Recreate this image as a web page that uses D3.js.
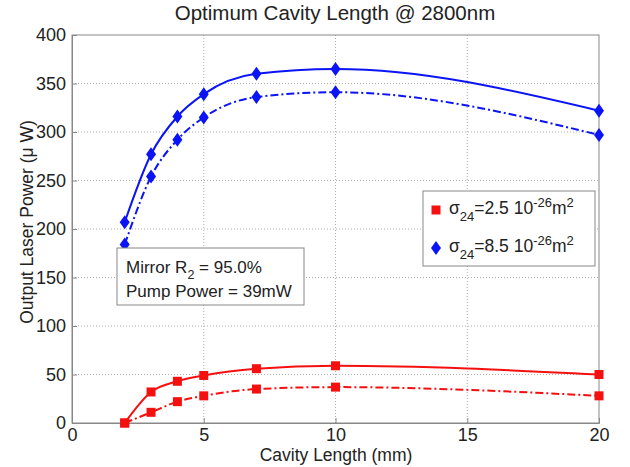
<!DOCTYPE html>
<html>
<head>
<meta charset="utf-8">
<script src="https://cdn.jsdelivr.net/npm/d3@7"></script>
<style>
  body { margin: 0; background: #fff; }
  text { font-family: "Liberation Sans", Arial, sans-serif; fill: #222; }
</style>
</head>
<body>
<svg id="chart" width="630" height="467"></svg>
<script>
// cavity lengths (mm)
const lengths = [2, 3, 4, 5, 7, 10, 20];
// sigma24 = 8.5e-26 m^2
const blueSolid = [207, 277, 316, 339, 360, 365, 322];
const blueDash = [184, 254, 292, 315, 336, 341, 297];
// sigma24 = 2.5e-26 m^2
const redSolid = [0, 32, 43, 49, 56, 59, 50];
const redDash = [0, 11, 22, 28, 35, 37, 28];

const xTicks = [0, 5, 10, 15, 20];
const yTicks = [0, 50, 100, 150, 200, 250, 300, 350, 400];

const svg = d3.select('#chart');
const margin = { left: 72, right: 31, top: 35, bottom: 44 };
const W = 630, H = 467;

const x = d3.scaleLinear().domain([0, 20]).range([margin.left, W - margin.right]);
const y = d3.scaleLinear().domain([0, 400]).range([H - margin.bottom, margin.top]);

// grid
const grid = svg.append('g');
grid.selectAll('.gx').data(xTicks.slice(1, -1)).enter().append('line')
  .attr('x1', d => x(d)).attr('x2', d => x(d))
  .attr('y1', y(0)).attr('y2', y(400))
  .attr('stroke', '#999').attr('stroke-width', 0.8).attr('stroke-dasharray', '1,2');
grid.selectAll('.gy').data(yTicks.slice(1, -1)).enter().append('line')
  .attr('x1', x(0)).attr('x2', x(20))
  .attr('y1', d => y(d)).attr('y2', d => y(d))
  .attr('stroke', '#999').attr('stroke-width', 0.8).attr('stroke-dasharray', '1,2');

// axes (ticks inside, box)
const xAxis = svg.append('g').attr('transform', `translate(0,${y(0)})`)
  .call(d3.axisBottom(x).tickValues(xTicks).tickSize(-5).tickPadding(5));
const yAxis = svg.append('g').attr('transform', `translate(${x(0)},0)`)
  .call(d3.axisLeft(y).tickValues(yTicks).tickSize(-5).tickPadding(6));
[xAxis, yAxis].forEach(a => {
  a.select('.domain').attr('stroke', '#888');
  a.selectAll('.tick line').attr('stroke', '#888');
  a.selectAll('.tick text').attr('font-size', 18).attr('fill', '#222')
    .attr('font-family', '"Liberation Sans", Arial, sans-serif');
});
svg.append('rect')
  .attr('x', x(0)).attr('y', y(400))
  .attr('width', x(20) - x(0)).attr('height', y(0) - y(400))
  .attr('fill', 'none').attr('stroke', '#888');

// lines
const line = vals => d3.line()
  .x((d, i) => x(lengths[i]))
  .y(d => y(d))
  .curve(d3.curveMonotoneX)(vals);

const series = [
  { vals: blueSolid, color: '#0a14f5', dash: null, marker: 'diamond' },
  { vals: blueDash, color: '#0a14f5', dash: '8,3,2,3', marker: 'diamond' },
  { vals: redSolid, color: '#f51010', dash: null, marker: 'square' },
  { vals: redDash, color: '#f51010', dash: '8,3,2,3', marker: 'square' }
];

const diamond = 'M0,-7L5,0L0,7L-5,0Z';
const square = 'M-4.5,-4.5H4.5V4.5H-4.5Z';

series.forEach(s => {
  svg.append('path')
    .attr('d', line(s.vals))
    .attr('fill', 'none')
    .attr('stroke', s.color)
    .attr('stroke-width', 2)
    .attr('stroke-dasharray', s.dash);
  svg.selectAll(null).data(s.vals).enter().append('path')
    .attr('transform', (d, i) => `translate(${x(lengths[i])},${y(d)})`)
    .attr('d', s.marker === 'diamond' ? diamond : square)
    .attr('fill', s.color);
});

// title & axis labels
svg.append('text').attr('x', 335).attr('y', 20).attr('text-anchor', 'middle')
  .attr('font-size', 20.5).text('Optimum Cavity Length @ 2800nm');
svg.append('text').attr('x', 336).attr('y', 461).attr('text-anchor', 'middle')
  .attr('font-size', 17.5).text('Cavity Length (mm)');
svg.append('text').attr('transform', 'translate(33,222) rotate(-90)')
  .attr('text-anchor', 'middle').attr('font-size', 17.5)
  .text('Output Laser Power (\u03bc W)');

// legend
const legend = svg.append('g');
legend.append('rect').attr('x', 423).attr('y', 191).attr('width', 172).attr('height', 75)
  .attr('fill', '#fff').attr('stroke', '#888');
const legendItems = [
  { label: '2.5', color: '#f51010', marker: square, yy: 210 },
  { label: '8.5', color: '#0a14f5', marker: diamond, yy: 248 }
];
legendItems.forEach(it => {
  legend.append('path').attr('d', it.marker).attr('fill', it.color)
    .attr('transform', `translate(436,${it.yy})`);
  const t = legend.append('text').attr('x', 449).attr('y', it.yy + 4).attr('font-size', 17.5);
  t.append('tspan').text('\u03c3');
  t.append('tspan').attr('dy', 7).attr('font-size', 13).text('24');
  t.append('tspan').attr('dy', -7).text('=' + it.label + ' 10');
  t.append('tspan').attr('dy', -7).attr('font-size', 13).text('-26');
  t.append('tspan').attr('dy', 7).text('m');
  t.append('tspan').attr('dy', -7).attr('font-size', 13).text('2');
});

// annotation box
const note = svg.append('g');
note.append('rect').attr('x', 117).attr('y', 248).attr('width', 187).attr('height', 57)
  .attr('fill', '#fff').attr('stroke', '#888');
const n1 = note.append('text').attr('x', 126).attr('y', 273).attr('font-size', 17);
n1.append('tspan').text('Mirror R');
n1.append('tspan').attr('dy', 6).attr('font-size', 12.5).text('2');
n1.append('tspan').attr('dy', -6).text(' = 95.0%');
note.append('text').attr('x', 126).attr('y', 297).attr('font-size', 17).text('Pump Power = 39mW');
</script>
</body>
</html>
